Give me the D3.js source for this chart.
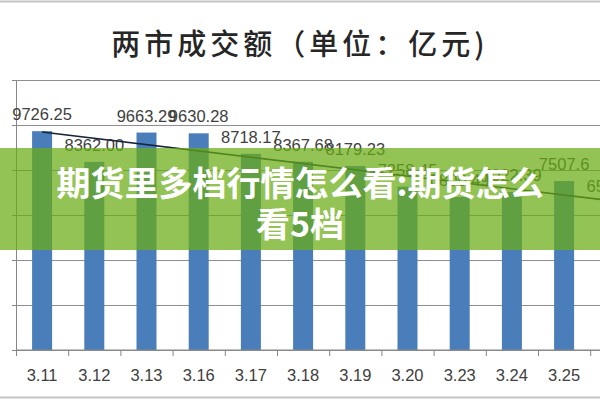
<!DOCTYPE html>
<html>
<head>
<meta charset="utf-8">
<script src="https://cdn.jsdelivr.net/npm/d3@7"></script>
<style>
  body { margin: 0; background: #fff; }
  svg { display: block; }
</style>
</head>
<body>
<script>
let w = 600;
let h = 400;

// data
let dates = ["3.11", "3.12", "3.13", "3.16", "3.17", "3.18", "3.19", "3.20", "3.23", "3.24", "3.25", "3.26"];
let turnover = [9726.25, 8362.00, 9663.29, 9630.28, 8718.17, 8367.68, 8179.23, 7258.45, 6800.49, 7022.39, 7507.6, 6530.18];
let labels = ["9726.25", "8362.00", "9663.29", "9630.28", "8718.17", "8367.68", "8179.23", "7258.45", "6800.49", "7022.39", "7507.6", "6530.18"];
let yTicks = [0, 2000, 4000, 6000, 8000, 10000, 12000];
let title = "两市成交额（单位：亿元)";
let bannerLines = ["期货里多档行情怎么看:期货怎么", "看5档"];

let svg = d3.select("body")
    .append("svg")
    .attr("width", w)
    .attr("height", h);

svg.append("rect").attr("width", w).attr("height", h).attr("fill", "#fff");

// frame of the original image
svg.append("line").attr("x1", 0).attr("x2", w).attr("y1", 1.5).attr("y2", 1.5)
    .attr("stroke", "#c4c4c4").attr("stroke-width", 2);
svg.append("line").attr("x1", 0).attr("x2", w).attr("y1", 397.5).attr("y2", 397.5)
    .attr("stroke", "#c4c4c4").attr("stroke-width", 2);

svg.append("text")
    .attr("x", w / 2)
    .attr("y", 42)
    .attr("text-anchor", "middle")
    .attr("dominant-baseline", "central")
    .attr("font-family", "'Noto Sans CJK SC', sans-serif")
    .attr("font-size", 29)
    .attr("font-weight", 500)
    .attr("letter-spacing", 4)
    .attr("fill", "#262626")
    .text(title);

let left = 16, step = 52.2;
let x = d3.scaleBand()
    .domain(dates)
    .range([left, left + step * dates.length])
    .padding(0);

let y = d3.scaleLinear()
    .domain([0, 12000])
    .range([350, 80]);

// gridlines
svg.append("g")
    .attr("transform", `translate(${left},0)`)
    .call(d3.axisLeft(y).tickValues(yTicks).tickSize(-(w - left)).tickFormat(""))
    .call(g => g.select(".domain").remove())
    .selectAll("line")
    .attr("stroke", "#8e8e8e");

// y axis line with small outer ticks
svg.append("g")
    .attr("transform", `translate(${left},0)`)
    .call(d3.axisLeft(y).tickValues(yTicks).tickSize(4).tickSizeOuter(0).tickFormat(""))
    .selectAll("path, line")
    .attr("stroke", "#868686");

// bars
let barW = 20;
svg.selectAll("rect.bar")
    .data(turnover)
    .enter()
    .append("rect")
    .attr("class", "bar")
    .attr("x", (d, i) => x(dates[i]) + (x.bandwidth() - barW) / 2)
    .attr("y", d => y(d))
    .attr("width", barW)
    .attr("height", d => y(0) - y(d))
    .attr("fill", "#4a7ebb");

// x axis: line, boundary ticks, labels
let xg = svg.append("g").attr("transform", `translate(0,${y(0)})`);
xg.append("line").attr("x1", left).attr("x2", w).attr("stroke", "#868686");
xg.selectAll("line.tick")
    .data(dates)
    .enter()
    .append("line")
    .attr("class", "tick")
    .attr("x1", d => x(d) + 0.5)
    .attr("x2", d => x(d) + 0.5)
    .attr("y1", 0)
    .attr("y2", 6)
    .attr("stroke", "#868686");
xg.selectAll("text")
    .data(dates)
    .enter()
    .append("text")
    .attr("x", d => x(d) + x.bandwidth() / 2)
    .attr("y", 25)
    .attr("text-anchor", "middle")
    .attr("dominant-baseline", "central")
    .attr("font-family", "'Liberation Sans', Arial, sans-serif")
    .attr("font-size", 16.5)
    .attr("fill", "#404040")
    .text(d => d);

// data labels
svg.selectAll("text.val")
    .data(turnover)
    .enter()
    .append("text")
    .attr("class", "val")
    .attr("x", (d, i) => x(dates[i]) + x.bandwidth() / 2)
    .attr("y", d => y(d) - 11)
    .attr("text-anchor", "middle")
    .attr("font-family", "'Liberation Sans', Arial, sans-serif")
    .attr("font-size", 16.5)
    .attr("fill", "#404040")
    .text((d, i) => labels[i]);

// linear trend line (least squares over the bars)
let n = turnover.length;
let mx = d3.mean(turnover, (d, i) => i);
let my = d3.mean(turnover);
let slope = d3.sum(turnover, (d, i) => (i - mx) * (d - my)) / d3.sum(turnover, (d, i) => (i - mx) * (i - mx));
let icpt = my - slope * mx;
let cx = i => x(dates[i]) + x.bandwidth() / 2;
svg.append("line")
    .attr("x1", cx(0))
    .attr("y1", y(icpt))
    .attr("x2", cx(n - 1))
    .attr("y2", y(icpt + slope * (n - 1)))
    .attr("stroke", "#17243a")
    .attr("stroke-width", 1.6);

// green banner over the chart
svg.append("rect")
    .attr("x", 0)
    .attr("y", 148)
    .attr("width", w)
    .attr("height", 102)
    .attr("fill", "rgb(105,172,20)")
    .attr("fill-opacity", 0.72);

svg.selectAll("text.banner")
    .data(bannerLines)
    .enter()
    .append("text")
    .attr("class", "banner")
    .attr("x", w / 2)
    .attr("y", (d, i) => 181 + i * 41)
    .attr("text-anchor", "middle")
    .attr("dominant-baseline", "central")
    .attr("font-family", "'Noto Sans CJK SC', sans-serif")
    .attr("font-size", 34)
    .attr("font-weight", 700)
    .attr("fill", "#fff")
    .text(d => d);
</script>
</body>
</html>
